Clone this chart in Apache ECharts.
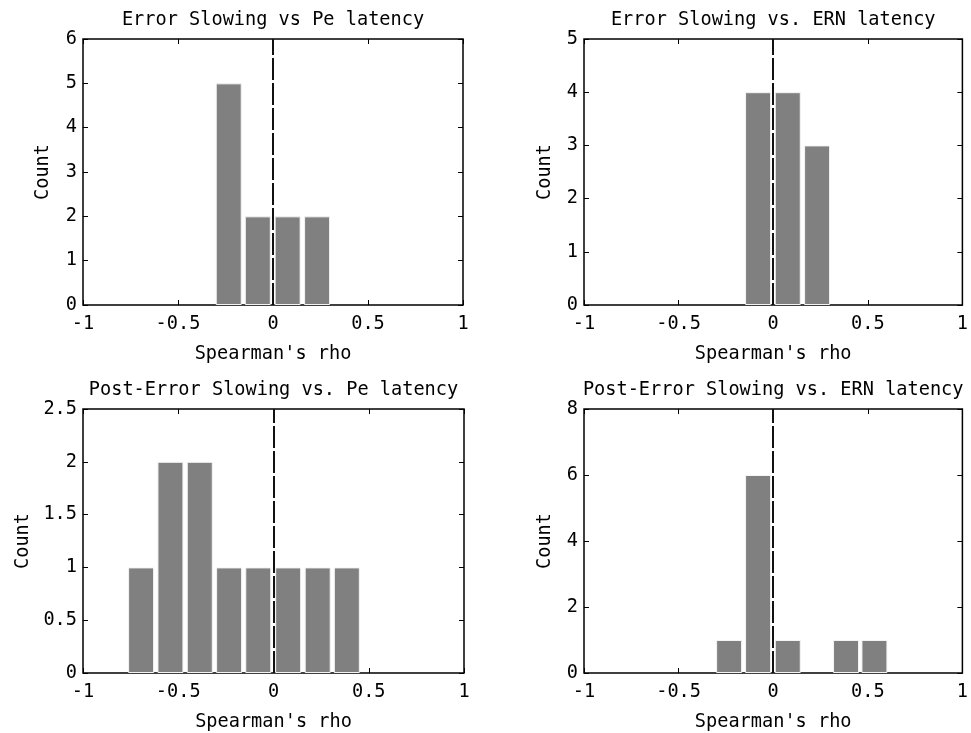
<!DOCTYPE html>
<html>
<head>
<meta charset="utf-8">
<script src="https://cdn.jsdelivr.net/npm/echarts@6/dist/echarts.min.js"></script>
<style>
  html, body { margin: 0; padding: 0; background: #fff; }
  #chart { width: 971px; height: 733px; }
</style>
</head>
<body>
<div id="chart"></div>
<script>
// Histogram bin centres (Spearman's rho)
const rhoBins = [-0.695, -0.541, -0.387, -0.233, -0.080, 0.077, 0.232, 0.385, 0.535];

// Counts per bin for each comparison
const errSlowPe   = [0, 0, 0, 5, 2, 2, 2, 0, 0];
const errSlowErn  = [0, 0, 0, 0, 4, 4, 3, 0, 0];
const postErrPe   = [1, 2, 2, 1, 1, 1, 1, 1, 0];
const postErrErn  = [0, 0, 0, 1, 6, 1, 0, 1, 1];

const panelTitles = [
  'Error Slowing vs Pe latency',
  'Error Slowing vs. ERN latency',
  'Post-Error Slowing vs. Pe latency',
  'Post-Error Slowing vs. ERN latency'
];
const xTicks = [-1, -0.5, 0, 0.5, 1];
const yMax = [6, 5, 2.5, 8];
const yStep = [1, 1, 0.5, 2];
const xLabelText = "Spearman's rho";
const yLabelText = 'Count';

const panelCounts = [errSlowPe, errSlowErn, postErrPe, postErrErn];

const FONT = 'DejaVu Sans Mono';
const FS = 18.6;

const grids = [
  { left: 83,  top: 39,  width: 380, height: 266 },
  { left: 584, top: 39,  width: 381, height: 266 },
  { left: 83,  top: 409, width: 381, height: 265 },
  { left: 584, top: 409, width: 381, height: 265 }
];
const yNameGap = [30, 29, 50, 29];

const option = {
  backgroundColor: '#fff',
  animation: false,
  grid: grids.map(g => Object.assign({
    show: true, borderColor: '#000', borderWidth: 1.5, backgroundColor: '#fff',
    containLabel: false
  }, g)),
  xAxis: [],
  yAxis: [],
  series: []
};

const txt = { fontFamily: FONT, fontSize: FS, color: '#000' };
const tickStyle = { show: true, inside: true, length: 5, lineStyle: { color: '#000', width: 1 } };

grids.forEach((g, i) => {
  // bottom x axis with labels
  option.xAxis.push({
    type: 'value', gridIndex: i, min: xTicks[0], max: xTicks[xTicks.length - 1], interval: 0.5,
    position: 'bottom',
    name: xLabelText, nameLocation: 'middle', nameGap: 40,
    nameTextStyle: txt,
    axisLine: { show: false, onZero: false },
    axisTick: tickStyle,
    axisLabel: Object.assign({ margin: 10, formatter: v => String(v) }, txt),
    splitLine: { show: false }
  });
  // top x axis: ticks plus panel title
  option.xAxis.push({
    type: 'value', gridIndex: i, min: xTicks[0], max: xTicks[xTicks.length - 1], interval: 0.5,
    position: 'top',
    name: panelTitles[i], nameLocation: 'middle', nameGap: 9,
    nameTextStyle: txt,
    axisLine: { show: false, onZero: false },
    axisTick: tickStyle,
    axisLabel: { show: false },
    splitLine: { show: false }
  });
  // left y axis with labels
  option.yAxis.push({
    type: 'value', gridIndex: i, min: 0, max: yMax[i], interval: yStep[i],
    position: 'left',
    name: yLabelText, nameLocation: 'middle', nameGap: yNameGap[i],
    nameTextStyle: txt,
    axisLine: { show: false, onZero: false },
    axisTick: tickStyle,
    axisLabel: Object.assign({ margin: 6 }, txt),
    splitLine: { show: false }
  });
  // right y axis: ticks only
  option.yAxis.push({
    type: 'value', gridIndex: i, min: 0, max: yMax[i], interval: yStep[i],
    position: 'right',
    axisLine: { show: false, onZero: false },
    axisTick: tickStyle,
    axisLabel: { show: false },
    splitLine: { show: false }
  });

  const data = [];
  rhoBins.forEach((c, k) => {
    if (panelCounts[i][k] > 0) data.push([c, panelCounts[i][k]]);
  });

  option.series.push({
    type: 'bar',
    xAxisIndex: i * 2,
    yAxisIndex: i * 2,
    data: data,
    barWidth: 26,
    itemStyle: { color: '#808080', borderColor: '#f4f4f4', borderWidth: 1 },
    markLine: {
      silent: true,
      symbol: 'none',
      label: { show: false },
      lineStyle: { color: '#111', width: 2, type: [22, 3] },
      data: [{ xAxis: 0 }]
    },
    z: 2
  });
});

const chart = echarts.init(document.getElementById('chart'), null, { renderer: 'canvas' });
chart.setOption(option);
</script>
</body>
</html>
